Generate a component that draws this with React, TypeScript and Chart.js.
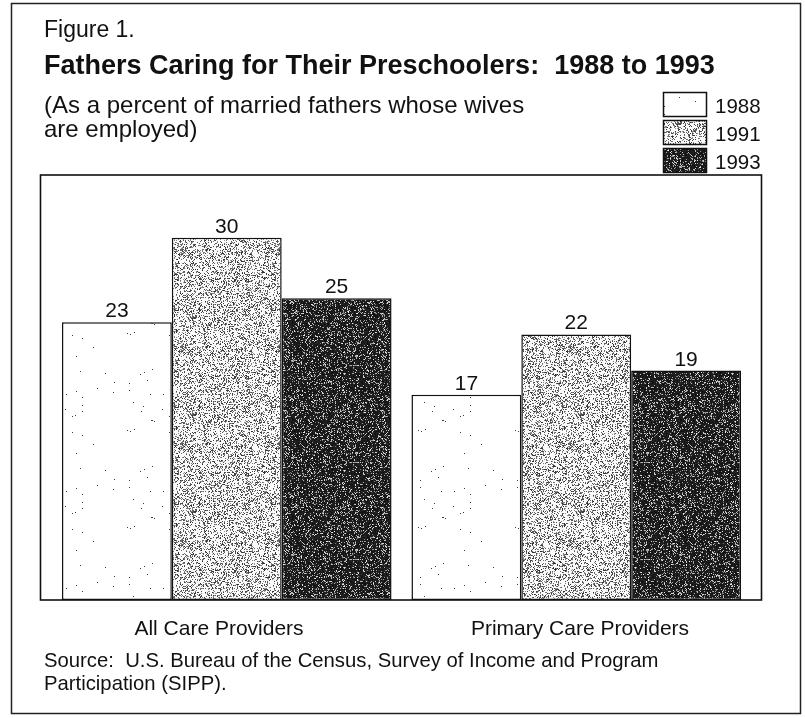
import React, { useEffect, useRef } from "react";
import { Chart, registerables } from "chart.js";

Chart.register(...registerables);

const CATEGORIES = ["All Care Providers", "Primary Care Providers"];
const SERIES_LABELS = ["1988", "1991", "1993"];
const VALUES_1988 = [23, 17];
const VALUES_1991 = [30, 22];
const VALUES_1993 = [25, 19];

const FONT = '"Liberation Sans", Arial, Helvetica, sans-serif';
const INK = "#111111";

function hash(n: number): number {
  let x = n | 0;
  x = Math.imul(x ^ (x >>> 15), 0x2c1b3c6d);
  x ^= x >>> 12;
  x = Math.imul(x, 0x297a2d39);
  x ^= x >>> 15;
  return (x >>> 0) / 4294967296;
}

function makeTexture(kind: number): CanvasPattern | string {
  const size = 97;
  const c = document.createElement("canvas");
  c.width = size;
  c.height = size;
  const ctx = c.getContext("2d");
  if (!ctx) return "#999";
  const img = ctx.createImageData(size, size);
  for (let i = 0; i < size * size; i++) {
    const r = hash(i * 7 + kind * 100003);
    const r2 = hash(i * 13 + kind * 7919 + 1);
    let v = 255;
    if (kind === 0) {
      v = r < 0.003 ? 60 : 255;
    } else if (kind === 1) {
      v = r < 0.32 ? 40 + Math.floor(r2 * 110) : 250;
    } else {
      v = r < 0.2 ? 120 + Math.floor(r2 * 120) : 15 + Math.floor(r2 * 25);
    }
    img.data[i * 4] = v;
    img.data[i * 4 + 1] = v;
    img.data[i * 4 + 2] = v;
    img.data[i * 4 + 3] = 255;
  }
  ctx.putImageData(img, 0, 0);
  const p = ctx.createPattern(c, "repeat");
  return p || "#999";
}

const framePlugin = {
  id: "frames",
  beforeDraw(chart: any) {
    const ctx = chart.ctx;
    ctx.save();
    ctx.fillStyle = "#ffffff";
    ctx.fillRect(0, 0, chart.width, chart.height);
    ctx.strokeStyle = "#222";
    ctx.lineWidth = 1.5;
    ctx.strokeRect(11.5, 3.5, 789, 710);
    ctx.restore();
  },
  afterDatasetsDraw(chart: any) {
    const ctx = chart.ctx;
    const a = chart.chartArea;
    ctx.save();
    // inner plot box
    ctx.strokeStyle = INK;
    ctx.lineWidth = 1.6;
    ctx.strokeRect(a.left - 11.5, a.top, a.right - a.left + 22, a.bottom - a.top);
    // value labels
    ctx.fillStyle = INK;
    ctx.font = `21px ${FONT}`;
    ctx.textAlign = "center";
    ctx.textBaseline = "alphabetic";
    chart.data.datasets.forEach((ds: any, di: number) => {
      const meta = chart.getDatasetMeta(di);
      meta.data.forEach((el: any, i: number) => {
        ctx.fillText(String(ds.data[i]), el.x, el.y - 5);
      });
    });
    // legend
    ctx.font = `20.5px ${FONT}`;
    ctx.textAlign = "left";
    chart.data.datasets.forEach((ds: any, di: number) => {
      const y = 92 + di * 28;
      ctx.fillStyle = ds.backgroundColor;
      ctx.fillRect(663, y, 44, 25);
      ctx.strokeStyle = INK;
      ctx.lineWidth = 1.5;
      ctx.strokeRect(663.5, y + 0.5, 43, 24);
      ctx.fillStyle = INK;
      ctx.fillText(ds.label, 715, y + 21);
    });
    ctx.restore();
  },
};

export default function App() {
  const ref = useRef<HTMLCanvasElement>(null);

  useEffect(() => {
    if (!ref.current) return;
    const fills = [makeTexture(0), makeTexture(1), makeTexture(2)];
    const values = [VALUES_1988, VALUES_1991, VALUES_1993];
    const chart = new Chart(ref.current, {
      type: "bar",
      data: {
        labels: CATEGORIES,
        datasets: SERIES_LABELS.map((lab, i) => ({
          label: lab,
          data: values[i],
          backgroundColor: fills[i] as any,
          borderColor: INK,
          borderWidth: 1.5,
          borderSkipped: false,
          categoryPercentage: 0.943,
          barPercentage: 1.0,
        })),
      },
      options: {
        responsive: false,
        animation: false,
        devicePixelRatio: 1,
        layout: { padding: { left: 52, right: 54, top: 175, bottom: 78 } },
        plugins: {
          legend: { display: false },
          tooltip: { enabled: false },
          title: { display: false },
        },
        scales: {
          x: { display: false },
          xl: {
            type: "linear",
            position: "bottom",
            offset: false,
            bounds: "data",
            min: -0.4626,
            max: 1.4737,
            grid: { display: false, drawTicks: false, offset: false },
            border: { display: false },
            ticks: {
              padding: 17,
              color: INK,
              font: { family: FONT, size: 21 },
              autoSkip: false,
              maxRotation: 0,
              callback: (v: any) => CATEGORIES[v] ?? "",
            },
            afterBuildTicks: (s: any) => {
              s.ticks = CATEGORIES.map((_, i) => ({ value: i }));
            },
            afterFit: (s: any) => {
              s.height = 40;
            },
          },
          y: { display: false, min: 0, max: 35.2 },
        },
      } as any,
      plugins: [framePlugin],
    });
    return () => chart.destroy();
  }, []);

  const base: React.CSSProperties = {
    position: "absolute",
    left: 44,
    color: INK,
    fontFamily: FONT,
    whiteSpace: "pre",
    margin: 0,
  };

  return (
    <div style={{ position: "absolute", left: 0, top: 0, width: 805, height: 718, background: "#fff" }}>
      <canvas ref={ref} width={805} height={718} style={{ position: "absolute", left: 0, top: 0, width: 805, height: 718 }} />
      <div style={{ ...base, top: 18, fontSize: 23, lineHeight: "23px" }}>Figure 1.</div>
      <div style={{ ...base, top: 52, fontSize: 27, lineHeight: "27px", fontWeight: 700 }}>
        {"Fathers Caring for Their Preschoolers:  1988 to 1993"}
      </div>
      <div style={{ ...base, top: 93, fontSize: 24, lineHeight: "24px" }}>
        {"(As a percent of married fathers whose wives\nare employed)"}
      </div>
      <div style={{ ...base, top: 649, fontSize: 20.3, lineHeight: "23px" }}>
        {"Source:  U.S. Bureau of the Census, Survey of Income and Program\nParticipation (SIPP)."}
      </div>
    </div>
  );
}
